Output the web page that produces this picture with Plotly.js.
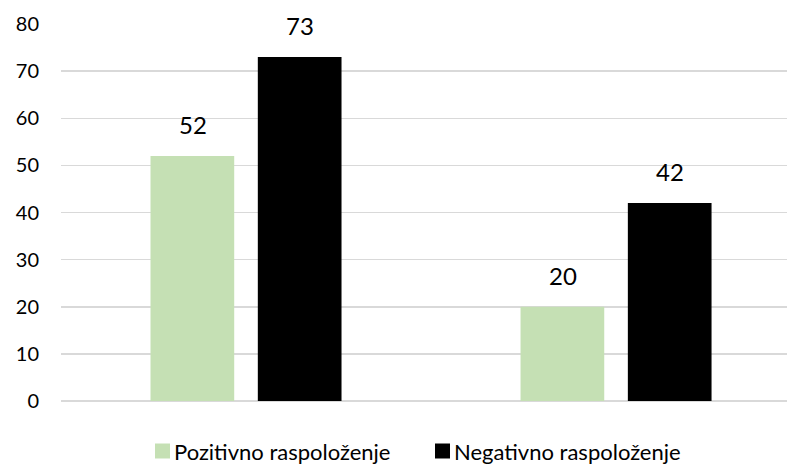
<!DOCTYPE html>
<html>
<head>
<meta charset="utf-8">
<script src="https://cdn.plot.ly/plotly-3.0.1.min.js"></script>
<style>html,body{margin:0;padding:0;background:#fff;}#chart{width:787px;height:464px;}</style>
</head>
<body>
<div id="chart"></div>
<script>
const categories = ["A", "B"];
const seriesNames = ["Pozitivno raspoloženje", "Negativno raspoloženje"];
const pozitivno = [52, 20];
const negativno = [73, 42];
const colors = ["#C5E0B4", "#000000"];
const yTicks = [0, 10, 20, 30, 40, 50, 60, 70, 80];

const series = [pozitivno, negativno];
const FONT = "Lato, 'Noto Sans', sans-serif";

const traces = series.map((vals, i) => ({
  type: "bar",
  name: seriesNames[i],
  x: categories,
  y: vals,
  marker: {color: colors[i]},
  hoverinfo: "skip"
}));

const slotShift = [-53.5, 53.5];
const annotations = [];
series.forEach((vals, i) => {
  vals.forEach((v, j) => {
    annotations.push({
      x: categories[j], y: v, xref: "x", yref: "y",
      text: String(v), showarrow: false,
      xshift: slotShift[i], yshift: 15, yanchor: "bottom",
      font: {family: FONT, size: 24, color: "#000"}
    });
  });
});

const layout = {
  width: 787, height: 464,
  margin: {l: 61, r: 0, t: 24, b: 63},
  paper_bgcolor: "#fff", plot_bgcolor: "#fff",
  barmode: "group",
  bargap: 0.42,
  bargroupgap: 0.22,
  showlegend: true,
  legend: {
    orientation: "h", xref: "paper", yref: "container",
    x: 0.49, xanchor: "center", y: 0.04, yanchor: "middle",
    bgcolor: "rgba(0,0,0,0)",
    font: {family: FONT, size: 22, color: "#000"},
    itemwidth: 30, traceorder: "normal"
  },
  xaxis: {
    type: "category", range: [-0.5, 1.462],
    showticklabels: false, showgrid: false, zeroline: false,
    showline: false, ticks: "", fixedrange: true
  },
  yaxis: {
    range: [0, 80], tickvals: yTicks, ticktext: yTicks.map(String),
    showgrid: true, gridcolor: "#D9D9D9", gridwidth: 1.5,
    zeroline: true, zerolinecolor: "#D9D9D9", zerolinewidth: 1.5,
    showline: false, ticks: "", ticklen: 0, ticklabelstandoff: 21,
    tickfont: {family: FONT, size: 20, color: "#000"},
    automargin: false
  },
  annotations: annotations
};

// Legend fine-tuning: square size and position, text gap (layout only)
const legendSquare = 15;
const legendSquareLeft = [155, 435];
const legendTextGap = 4;
const legendCenterY = 451;

Plotly.newPlot("chart", traces, layout, {displayModeBar: false, staticPlot: true}).then(gd => {
  gd.querySelectorAll(".legend [clip-path]").forEach(e => e.removeAttribute("clip-path"));
  const items = gd.querySelectorAll(".legend .traces");
  items.forEach((g, i) => {
    const path = g.querySelector(".legendpoints path");
    const h = legendSquare / 2;
    if (path) {
      path.setAttribute("d", `M${h},${h}H${-h}V${-h}H${h}Z`);
      path.setAttribute("transform", "translate(20,0)");
    }
    const txt = g.querySelector(".legendtext");
    if (txt) {
      const tx = 20 + h + legendTextGap;
      txt.setAttribute("x", tx);
      txt.querySelectorAll("tspan").forEach(t => { if (t.hasAttribute("x")) t.setAttribute("x", tx); });
    }
    if (path) {
      const r = path.getBoundingClientRect();
      const dx = legendSquareLeft[i] - r.left;
      const dy = legendCenterY - (r.top + r.height / 2);
      const tr = g.getAttribute("transform") || "";
      const m = tr.match(/translate\(\s*([-\d.e]+)[ ,]+([-\d.e]+)\s*\)/);
      const ox = m ? parseFloat(m[1]) : 0, oy = m ? parseFloat(m[2]) : 0;
      g.setAttribute("transform", `translate(${ox + dx},${oy + dy})`);
    }
  });
});
</script>
</body>
</html>
